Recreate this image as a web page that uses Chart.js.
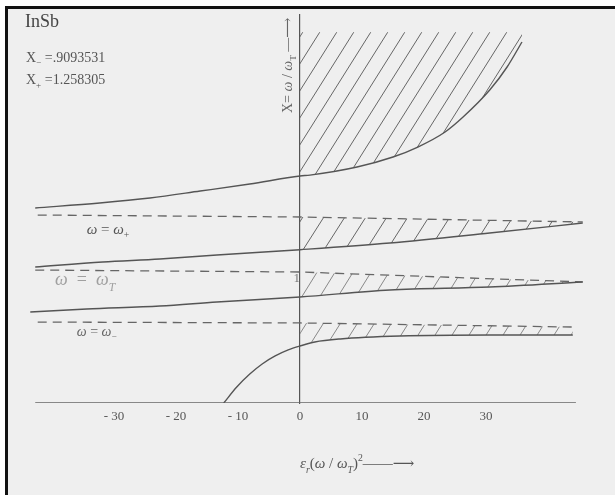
<!DOCTYPE html>
<html>
<head>
<meta charset="utf-8">
<script src="https://cdn.jsdelivr.net/npm/chart.js@4.4.1/dist/chart.umd.min.js"></script>
<style>
html, body { margin:0; padding:0; background:#fff; }
#frame { position:absolute; left:5px; top:6px; width:610px; height:489px; background:#efefef;
         border-top:3px solid #111; border-left:3px solid #111; box-sizing:border-box; }
#wrap { position:absolute; left:0; top:0; width:615px; height:495px; }
</style>
</head>
<body>
<div id="frame"></div>
<div id="wrap"><canvas id="chart" width="615" height="495"></canvas></div>
<script>
// values (x = eps_r (w/wT)^2, y = figure units, wT line = 1)
var xTicks = [-30, -20, -10, 0, 10, 20, 30];
var yTicks = [1];

var upperX = [-42.7, -32.3, -24.2, -16.1, -8.1, 0, 1.6, 9.2, 15.0, 19.0, 23.4, 26.3, 30.6, 33.4, 35.8];
var upperY = [1.489, 1.527, 1.565, 1.618, 1.672, 1.733, 1.740, 1.802, 1.878, 1.954, 2.069, 2.183, 2.389, 2.565, 2.756];

var midX = [-42.7, -31.8, -22.6, -13.4, 0, 14.5, 30.6, 45.6];
var midY = [1.038, 1.076, 1.099, 1.130, 1.170, 1.221, 1.298, 1.374];

var lowX = [-43.5, -34.4, -22.6, -13.4, 0, 14.5, 30.6, 45.6];
var lowY = [0.695, 0.718, 0.740, 0.771, 0.809, 0.863, 0.885, 0.924];

var bottomX = [-12.3, -10.2, -8.1, -6.1, -4.0, -1.9, 0, 2.4, 6.5, 16.1, 30.6, 44.0];
var bottomY = [0, 0.122, 0.221, 0.298, 0.359, 0.405, 0.435, 0.466, 0.489, 0.511, 0.519, 0.519];

var plusX = [-42.3, 0, 45.6];
var plusY = [1.435, 1.420, 1.382];
var tX = [-42.7, 0, 45.6];
var tY = [1.015, 1.000, 0.924];
var minusX = [-42.3, 0, 44.0];
var minusY = [0.618, 0.611, 0.580];

var baseX = [-42.7, 44.5];
var baseY = [0, 0];

var hatchTopY = 2.83;

var serif = '"Liberation Serif", "DejaVu Serif", serif';

var asymLabels = [
    { x: -34.4, y: 1.328, size: 15, color: '#555', parts: [['ω', 'i'], [' = ', ''], ['ω', 'i'], ['+', 'sub']] },
    { x: -39.5, y: 0.939, size: 18, color: '#a0a0a0', parts: [['ω', 'i'], ['  =  ', ''], ['ω', 'i'], ['T', 'isub']] },
    { x: -36.0, y: 0.542, size: 14, color: '#666', parts: [['ω', 'i'], [' = ', ''], ['ω', 'i'], ['−', 'sub']] }
];

var ctx = document.getElementById('chart').getContext('2d');

function hatch(step, rise, color) {
    var c = document.createElement('canvas');
    c.width = step; c.height = rise;
    var g = c.getContext('2d');
    g.strokeStyle = color;
    g.lineWidth = 1;
    g.beginPath();
    for (var k = -1; k <= 1; k++) {
        g.moveTo(k * step, rise);
        g.lineTo((k + 1) * step, 0);
    }
    g.stroke();
    return ctx.createPattern(c, 'repeat');
}

function pts(xs, ys, rightOnly) {
    var out = [];
    xs.forEach(function (x, i) {
        if (!rightOnly || x >= 0) out.push({ x: x, y: ys[i] });
    });
    return out;
}

function curve(xs, ys) {
    return { data: pts(xs, ys), borderColor: '#555', borderWidth: 1.4, pointRadius: 0,
             showLine: true, fill: false, cubicInterpolationMode: 'monotone' };
}
function dashed(xs, ys) {
    return { data: pts(xs, ys), borderColor: '#666', borderWidth: 1.3, borderDash: [9, 6],
             pointRadius: 0, showLine: true, fill: false };
}
function hatched(xs, ys, target, pattern) {
    return { data: pts(xs, ys, true), borderWidth: 0, borderColor: 'rgba(0,0,0,0)', pointRadius: 0,
             showLine: true, fill: target, backgroundColor: pattern, cubicInterpolationMode: 'monotone' };
}

function drawRich(c, x, y, parts, size, color, angle) {
    c.save();
    c.translate(x, y);
    if (angle) c.rotate(angle);
    c.fillStyle = color;
    c.textBaseline = 'alphabetic';
    c.textAlign = 'left';
    var cx = 0;
    parts.forEach(function (p) {
        var t = p[0], m = p[1];
        var small = m.indexOf('sub') >= 0 || m.indexOf('sup') >= 0;
        var s = small ? size * 0.65 : size;
        c.font = (m.indexOf('i') === 0 ? 'italic ' : '') + s + 'px ' + serif;
        var dy = m.indexOf('sub') >= 0 ? size * 0.3 : (m.indexOf('sup') >= 0 ? -size * 0.45 : 0);
        c.fillText(t, cx, dy);
        cx += c.measureText(t).width;
    });
    c.restore();
}

var textPlugin = {
    id: 'texts',
    afterDraw: function (chart) {
        var c = chart.ctx, sx = chart.scales.x, sy = chart.scales.y;
        asymLabels.forEach(function (l) {
            drawRich(c, sx.getPixelForValue(l.x), sy.getPixelForValue(l.y) + l.size * 0.3, l.parts, l.size, l.color);
        });
        // header
        drawRich(c, 25, 27, [['InSb', '']], 18, '#444');
        drawRich(c, 26, 62, [['X', ''], ['−', 'sub'], [' =.9093531', '']], 14, '#555');
        drawRich(c, 26, 84, [['X', ''], ['+', 'sub'], [' =1.258305', '']], 14, '#555');
        // axis titles
        var x0 = sx.getPixelForValue(0);
        drawRich(c, x0 - 8, 113, [['X= ', ''], ['ω', 'i'], [' / ', ''], ['ω', 'i'], ['T', 'sub'], [' —⟶', '']], 14, '#666', -Math.PI / 2);
        drawRich(c, x0, 468, [['ε', 'i'], ['r', 'isub'], ['(', ''], ['ω', 'i'], [' / ', ''], ['ω', 'i'], ['T', 'isub'], [')', ''], ['2', 'sup'], ['——⟶', '']], 15, '#555');
    }
};

var chart = new Chart(ctx, {
    type: 'scatter',
    data: {
        datasets: [
            curve(upperX, upperY),
            curve(midX, midY),
            curve(lowX, lowY),
            curve(bottomX, bottomY),
            dashed(plusX, plusY),
            dashed(tX, tY),
            dashed(minusX, minusY),
            { data: pts(baseX, baseY), borderColor: '#666', borderWidth: 1.3, pointRadius: 0, showLine: true, fill: false },
            hatched(upperX, upperY, { value: hatchTopY }, hatch(17, 27, '#666')),
            hatched(midX, midY, 4, hatch(21, 33, '#666')),
            hatched(lowX, lowY, 5, hatch(18, 29, '#888')),
            hatched(bottomX, bottomY, 6, hatch(17, 27, '#888'))
        ]
    },
    options: {
        responsive: false,
        animation: false,
        devicePixelRatio: 1,
        layout: { padding: { left: 25, right: 25, top: 15, bottom: 0 } },
        plugins: { legend: { display: false }, tooltip: { enabled: false } },
        scales: {
            x: {
                type: 'linear', position: 'bottom', min: -44.35, max: 46.77,
                grid: { display: false, drawTicks: false },
                border: { display: false },
                afterFit: function (s) { s.height = 92; },
                afterBuildTicks: function (s) { s.ticks = xTicks.map(function (v) { return { value: v }; }); },
                ticks: {
                    padding: 6, color: '#555', autoSkip: false, maxRotation: 0,
                    font: { family: serif, size: 13 },
                    callback: function (v) { return v < 0 ? '- ' + (-v) : '' + v; }
                }
            },
            y: {
                type: 'linear', position: { x: 0 }, min: 0, max: 2.962,
                grid: { display: false, drawTicks: false },
                border: { display: true, color: '#555', width: 1.2 },
                afterBuildTicks: function (s) { s.ticks = yTicks.map(function (v) { return { value: v }; }); },
                ticks: { padding: 3, labelOffset: 7, color: '#777', font: { family: serif, size: 13 } }
            }
        }
    },
    plugins: [textPlugin]
});
</script>
</body>
</html>
